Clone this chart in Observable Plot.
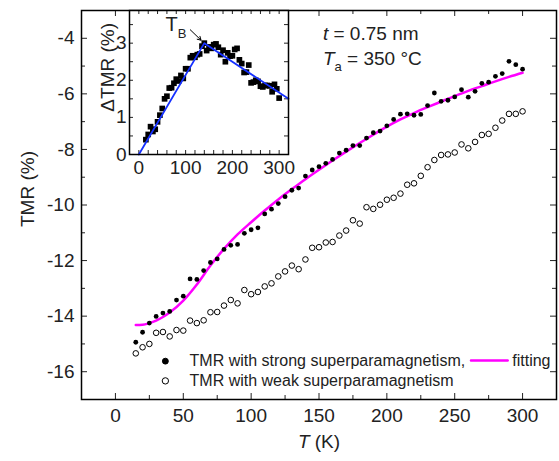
<!DOCTYPE html>
<html><head><meta charset="utf-8">
<script src="https://cdn.jsdelivr.net/npm/d3@7"></script>
<script src="https://cdn.jsdelivr.net/npm/@observablehq/plot@0.6"></script>
<style>
body{margin:0;background:#fff;}
#wrap{position:relative;width:559px;height:461px;}
#wrap svg{position:absolute;left:0;top:0;}
</style></head><body><div id="wrap"></div>
<script>
// ---------- data ----------
const temps = [15,20,25,30,35,40,45,50,55,60,65,70,75,80,85,90,95,100,105,110,115,120,125,130,135,140,145,150,155,160,165,170,175,180,185,190,195,200,205,210,215,220,225,230,235,240,245,250,255,260,265,270,275,280,285,290,295,300];
const strongTMR = [-14.94,-14.58,-14.25,-14.01,-13.89,-13.83,-13.42,-13.28,-12.66,-12.68,-12.36,-12.07,-11.94,-11.60,-11.45,-11.42,-11.02,-10.89,-10.82,-10.32,-10.15,-9.95,-9.70,-9.47,-9.39,-8.96,-8.74,-8.62,-8.50,-8.36,-8.13,-8.03,-7.86,-7.86,-7.59,-7.40,-7.34,-7.15,-6.92,-6.73,-6.72,-6.77,-6.74,-6.42,-5.97,-6.27,-6.23,-6.11,-5.85,-6.12,-5.91,-5.62,-5.58,-5.37,-5.27,-4.83,-4.95,-5.11];
const weakTMR = [-15.34,-15.12,-15.00,-14.60,-14.57,-14.73,-14.50,-14.52,-14.16,-14.25,-14.15,-13.86,-13.85,-13.62,-13.42,-13.54,-13.06,-13.21,-13.13,-12.93,-12.82,-12.57,-12.39,-12.18,-12.31,-11.96,-11.54,-11.52,-11.35,-11.33,-11.10,-10.92,-10.55,-10.67,-10.08,-10.14,-9.99,-9.81,-9.74,-9.59,-9.27,-9.22,-8.95,-8.64,-8.38,-8.20,-8.18,-8.11,-7.82,-7.96,-7.73,-7.48,-7.44,-7.22,-6.96,-6.72,-6.72,-6.63];
const fitT = [15,20,25,30,35,40,50,60,70,80,90,100,110,120,130,140,150,160,170,180,190,200,210,220,230,240,250,260,270,280,290,300];
const fitTMR = [-14.32,-14.31,-14.25,-14.16,-14.03,-13.87,-13.44,-12.86,-12.18,-11.58,-11.06,-10.62,-10.2,-9.8,-9.43,-9.07,-8.73,-8.4,-8.08,-7.77,-7.47,-7.18,-6.92,-6.69,-6.48,-6.28,-6.08,-5.89,-5.72,-5.55,-5.39,-5.24];
const insetDelta = [0.40,0.54,0.75,0.62,0.68,0.88,1.06,1.24,1.50,1.57,1.79,1.80,1.92,2.03,1.98,2.13,2.05,2.31,2.31,2.61,2.66,2.62,2.69,2.71,2.92,3.00,2.80,2.90,2.86,2.96,2.98,2.89,2.69,2.81,2.50,2.74,2.65,2.66,2.83,2.86,2.55,2.45,2.21,2.22,2.41,1.93,1.95,2.00,1.97,1.84,1.82,1.86,1.86,1.85,1.69,1.89,1.77,1.52];
const kinkT = [0,140,320];
const kinkDelta = [0,3.0,1.5];

const xMajor = [0,50,100,150,200,250,300];
const xMinor = [25,75,125,175,225,275];
const yMajor = [-4,-6,-8,-10,-12,-14,-16];
const yMinor = [-5,-7,-9,-11,-13,-15];
const insetXLabels = [0,100,200,300];
const insetXTicks = [0,20,40,60,80,100,120,140,160,180,200,220,240,260,280,300];
const insetYLabels = [0,1,2,3];
const insetYTicks = [0.5,1,1.5,2,2.5,3,3.5];

const legendRows = [
  {x: 36.8, y: -15.62, label: "TMR with strong superparamagnetism,", filled: true},
  {x: 36.8, y: -16.33, label: "TMR with weak superparamagnetism", filled: false}
];
const legendFit = [{x: 262, y: -15.6}, {x: 289, y: -15.6}];
const legendFitLabel = [{x: 292.4, y: -15.62, label: "fitting"}];
const notes = [
  {x: 152.9, y: -3.85, label: "t = 0.75 nm"},
  {x: 152.9, y: -4.75, label: "Ta = 350 °C"}
];
const tbLabel = [{x: 57, y: 3.5, label: "TB"}];
const tbArrow = [{x1: 110, y1: 3.36, x2: 133, y2: 3.08}];
const insetYTitle = [{x: -20, y: 2.35, label: "ΔTMR (%)"}];

// ---------- helpers ----------
const strong = temps.map((t,i)=>({T:t, v:strongTMR[i]}));
const weak = temps.map((t,i)=>({T:t, v:weakTMR[i]}));
const fit = fitT.map((t,i)=>({T:t, v:fitTMR[i]}));
const inset = temps.map((t,i)=>({T:t, v:insetDelta[i]}));
const kink = kinkT.map((t,i)=>({T:t, v:kinkDelta[i]}));

const W = 559, H = 461, mL = 81, mR = 3, mT = 10, mB = 62;
const fw = W - mL - mR, fh = H - mT - mB;
const ink = "#222";
const font = "Liberation Sans, Arial, Helvetica, sans-serif";

const main = Plot.plot({
  width: W, height: H,
  marginLeft: mL, marginRight: mR, marginTop: mT, marginBottom: mB,
  style: {fontFamily: font, fontSize: "19px", color: ink, background: "white"},
  x: {domain: [-25, 325]},
  y: {domain: [-17, -3]},
  marks: [
    Plot.axisX(xMajor, {tickSize: 0, tickPadding: 9, fontSize: 19, label: null, fill: ink}),
    Plot.axisY(yMajor, {tickSize: 0, tickPadding: 7, fontSize: 19, label: null, fill: ink, tickFormat: d => String(d)}),
    Plot.tickX(xMajor, {x: d=>d, insetTop: fh-6, stroke: ink}),
    Plot.tickX(xMinor, {x: d=>d, insetTop: fh-4, stroke: ink}),
    Plot.tickX(xMajor, {x: d=>d, insetBottom: fh-6, stroke: ink}),
    Plot.tickX(xMinor, {x: d=>d, insetBottom: fh-4, stroke: ink}),
    Plot.tickY(yMajor, {y: d=>d, insetRight: fw-6, stroke: ink}),
    Plot.tickY(yMinor, {y: d=>d, insetRight: fw-4, stroke: ink}),
    Plot.tickY(yMajor, {y: d=>d, insetLeft: fw-6, stroke: ink}),
    Plot.tickY(yMinor, {y: d=>d, insetLeft: fw-4, stroke: ink}),
    Plot.line(fit, {x: "T", y: "v", stroke: "#ff00ff", strokeWidth: 2.5, curve: "monotone-x"}),
    Plot.dot(strong, {x: "T", y: "v", r: 2.4, fill: "black"}),
    Plot.dot(weak, {x: "T", y: "v", r: 2.8, stroke: "black", strokeWidth: 1, fill: "white"}),
    Plot.dot(legendRows, {x: "x", y: "y", r: d => d.filled ? 2.4 : 2.8, fill: d => d.filled ? "black" : "white", stroke: "black", strokeWidth: 1}),
    Plot.text(legendRows, {x: d => d.x + 17.8, y: "y", text: "label", textAnchor: "start", fontSize: 16, fill: ink}),
    Plot.line(legendFit, {x: "x", y: "y", stroke: "#ff00ff", strokeWidth: 2.5}),
    Plot.text(legendFitLabel, {x: "x", y: "y", text: "label", textAnchor: "start", fontSize: 16, fill: ink}),
    Plot.text(notes, {x: "x", y: "y", text: "label", textAnchor: "start", fontSize: 19, fill: ink}),
    Plot.text(["T (K)"], {frameAnchor: "bottom", dy: 48, fontSize: 19, fill: ink}),
    Plot.text(["TMR (%)"], {frameAnchor: "left", dx: -54, dy: 22, rotate: -90, fontSize: 19, fill: ink}),
    Plot.frame({stroke: "black", strokeWidth: 1.5})
  ]
});

const iL = 129, iR = 288, iT = 10, iB = 154, IW = 300, IH = 190;
const ifw = iR - iL, ifh = iB - iT;
const insetPlot = Plot.plot({
  width: IW, height: IH,
  marginLeft: iL, marginRight: IW - iR, marginTop: iT, marginBottom: IH - iB,
  style: {fontFamily: font, fontSize: "19px", color: ink, background: "transparent"},
  x: {domain: [-20, 320]},
  y: {domain: [0, 3.88]},
  marks: [
    Plot.frame({fill: "white"}),
    Plot.axisX(insetXLabels, {tickSize: 0, tickPadding: 6, fontSize: 19, label: null, fill: ink}),
    Plot.axisY(insetYLabels, {tickSize: 0, tickPadding: 3, fontSize: 19, label: null, fill: ink}),
    Plot.tickX(insetXTicks, {x: d=>d, insetTop: ifh-4, stroke: ink}),
    Plot.tickX(insetXTicks, {x: d=>d, insetBottom: ifh-4, stroke: ink}),
    Plot.tickY(insetYTicks, {y: d=>d, insetRight: ifw-4, stroke: ink}),
    Plot.tickY(insetYTicks, {y: d=>d, insetLeft: ifw-4, stroke: ink}),
    Plot.dot(inset, {x: "T", y: "v", symbol: "square", r: 3.2, fill: "black"}),
    Plot.line(kink, {x: "T", y: "v", stroke: "#1530ff", strokeWidth: 1.8}),
    Plot.arrow(tbArrow, {x1: "x1", y1: "y1", x2: "x2", y2: "y2", stroke: "black", strokeWidth: 1, headLength: 6}),
    Plot.text(tbLabel, {x: "x", y: "y", text: "label", textAnchor: "start", fontSize: 20, fill: ink}),
    Plot.text(insetYTitle, {x: "x", y: "y", text: "label", dx: -22, rotate: -90, fontSize: 19, fill: ink}),
    Plot.frame({stroke: "black", strokeWidth: 1.5})
  ]
});

const wrap = document.getElementById("wrap");
wrap.appendChild(main);
wrap.appendChild(insetPlot);

function rich(svg, original, parts) {
  d3.select(svg).selectAll("text").filter(function(){ return this.textContent === original; }).each(function(){
    const t = d3.select(this);
    t.text(null);
    parts.forEach(p => {
      const ts = t.append("tspan").text(p.text);
      if (p.italic) ts.attr("font-style", "italic");
      if (p.size) ts.attr("font-size", p.size);
      if (p.dy) ts.attr("dy", p.dy);
    });
  });
}
rich(main, "t = 0.75 nm", [{text: "t", italic: true}, {text: " = 0.75 nm"}]);
rich(main, "Ta = 350 °C", [{text: "T", italic: true}, {text: "a", size: 13, dy: 6}, {text: " = 350 °C", dy: -6}]);
rich(main, "T (K)", [{text: "T", italic: true}, {text: " (K)"}]);
rich(insetPlot, "TB", [{text: "T"}, {text: "B", size: 13, dy: 7}]);
</script></body></html>
